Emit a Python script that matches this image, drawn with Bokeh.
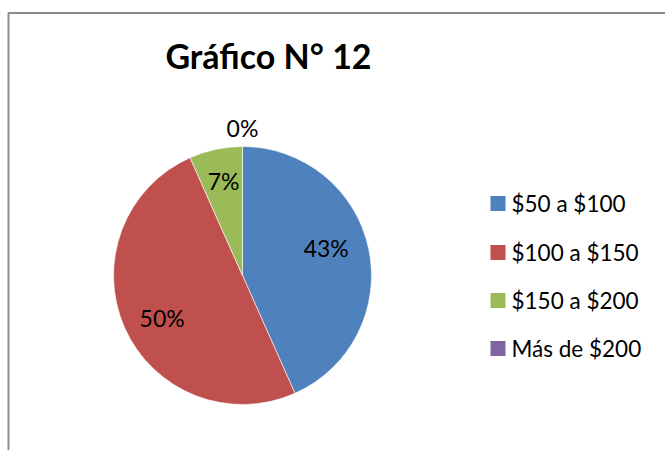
import math
from bokeh.plotting import figure
from bokeh.models import Range1d, ColumnDataSource
from bokeh.core.properties import value
from bokeh.embed import file_html
from bokeh.resources import INLINE

# ---- data ----
categories = ["$50 a $100", "$100 a $150", "$150 a $200", "Más de $200"]
counts = [13, 15, 2, 0]
colors = ["#4F81BD", "#C0504D", "#9BBB59", "#8064A2"]
title_text = "Gráfico N° 12"

# ---- layout (page pixel coordinates; data y = 450 - page y) ----
W, H = 665, 450
def Y(py):
    return 450 - py

cx, cy, R = 242, Y(275), 129
label_r = [88, 91, 96, 148]
label_dang = [-6, -4, 0.6, 0]
FONT = "Lato"

p = figure(width=W, height=H, output_backend="svg", toolbar_location=None,
           x_range=Range1d(0, 665), y_range=Range1d(0, 450),
           min_border=0, min_border_left=0, min_border_right=0,
           min_border_top=0, min_border_bottom=0)
p.axis.visible = False
p.grid.visible = False
p.outline_line_color = None
p.background_fill_color = "white"
p.border_fill_color = "white"

# chart border (gray)
p.line(x=[8, 8, 670], y=[Y(460), Y(12.5), Y(12.5)], line_color="#8c8c8c", line_width=2)

# title
p.text(x=[268], y=[Y(55)], text=[title_text], text_font=value(FONT),
       text_font_style="bold", text_font_size="34px", text_align="center",
       text_baseline="middle", text_color="black")

total = sum(counts)
starts, ends, mids, pct = [], [], [], []
cum = 0
for v in counts:
    a0 = cum / total
    cum += v
    a1 = cum / total
    starts.append(math.pi / 2 - 2 * math.pi * a0)
    ends.append(math.pi / 2 - 2 * math.pi * a1)
    mids.append((a0 + a1) / 2 * 360)
    pct.append(f"{round(v / total * 100)}%")

idx = [i for i, v in enumerate(counts) if v > 0]
src = ColumnDataSource(dict(
    start=[starts[i] for i in idx], end=[ends[i] for i in idx],
    color=[colors[i] for i in idx]))
p.wedge(x=cx, y=cy, radius=R, start_angle="start", end_angle="end",
        direction="clock", fill_color="color", line_color="white",
        line_width=0.6, source=src)

# data labels
lx, ly = [], []
for i in range(len(counts)):
    ang = math.radians(mids[i] + label_dang[i])
    lx.append(cx + label_r[i] * math.sin(ang))
    ly.append(cy + label_r[i] * math.cos(ang))
p.text(x=lx, y=ly, text=pct, text_font=value(FONT), text_font_size="23px",
       text_align="center", text_baseline="middle", text_color="black")

# legend
leg_y = [Y(v) for v in (203, 252, 300, 348)]
p.rect(x=[497.5] * 4, y=leg_y, width=15, height=15, fill_color=colors,
       line_color=None)
p.text(x=[511] * 4, y=leg_y, text=categories, text_font=value(FONT),
       text_font_size="22.5px", text_align="left", text_baseline="middle",
       text_color="black")

open("out.html", "w").write(file_html(p, INLINE))
